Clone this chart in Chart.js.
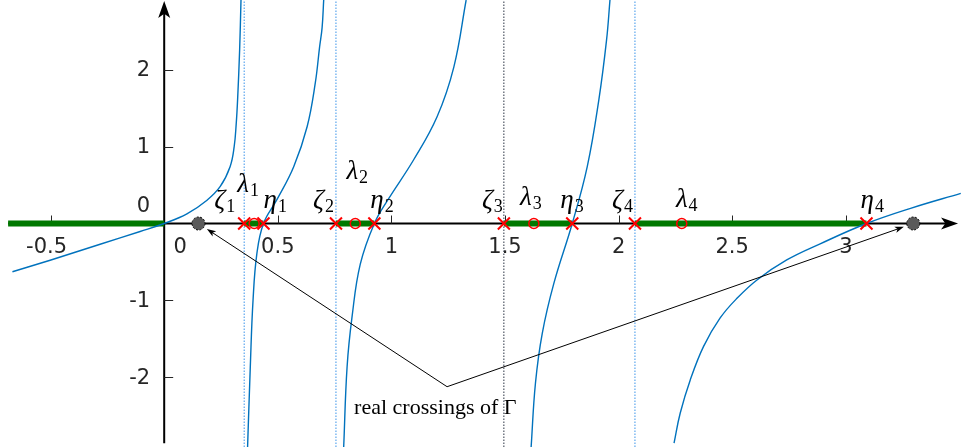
<!DOCTYPE html>
<html>
<head>
<meta charset="utf-8">
<script src="https://cdn.jsdelivr.net/npm/chart.js@4.4.0/dist/chart.umd.min.js"></script>
<style>
  html, body { margin: 0; padding: 0; background: #fff; }
  #wrap { width: 961px; height: 447px; }
</style>
</head>
<body>
<div id="wrap"><canvas id="chart" width="961" height="447"></canvas></div>
<script>
// visible window and drawn axes
const xRange = [-0.7227, 3.507];
const yRange = [-2.91, 2.91];
const axisX = [-0.687, 3.494];
const axisY = [-2.86, 2.897];

const xTicks = [-0.5, 0, 0.5, 1, 1.5, 2, 2.5, 3];
const yTicks = [-2, -1, 0, 1, 2];

// points on the real axis
const zetas = [0.352, 0.756, 1.495, 2.072];
const etas = [0.437, 0.925, 1.796, 3.091];
const lambdas = [0.396, 0.841, 1.627, 2.278];
const crossings = [0.151, 3.297];

// blue branches [x, y]
const branch1 = [[-0.668, -0.628], [-0.502, -0.478], [-0.282, -0.27], [-0.106, -0.104], [0, 0],
  [0.1, 0.125], [0.187, 0.3], [0.246, 0.479], [0.29, 0.74], [0.308, 1.0], [0.317, 1.3],
  [0.323, 1.61], [0.332, 2.26], [0.338, 2.91]];
const branch2 = [[0.367, -2.91], [0.379, -1.86], [0.391, -1.0], [0.408, -0.39], [0.437, 0],
  [0.496, 0.31], [0.57, 0.74], [0.629, 1.26], [0.665, 1.83], [0.684, 2.3], [0.695, 2.55], [0.702, 2.91]];
const branch3 = [[0.79, -2.91], [0.805, -1.865], [0.827, -1.21], [0.863, -0.53], [0.925, 0],
  [0.985, 0.31], [1.098, 0.83], [1.201, 1.39], [1.275, 2.04], [1.329, 2.91]];
const branch4 = [[1.615, -2.91], [1.634, -2.08], [1.664, -1.43], [1.715, -0.78], [1.796, 0],
  [1.862, 0.74], [1.913, 1.61], [1.947, 2.39], [1.962, 2.91]];
const branch5 = [[2.244, -2.86], [2.271, -2.47], [2.315, -2.04], [2.374, -1.6], [2.447, -1.23],
  [2.521, -0.974], [2.609, -0.735], [2.74, -0.475], [2.887, -0.265], [3.091, 0], [3.285, 0.198],
  [3.506, 0.393]];

const noteText = 'real crossings of \u0393';
const noteVertex = [1.245, -2.125];
const notePos = [1.18, -2.42];

const blue = '#0072BD';
const green = '#007800';
const red = '#ff0000';
const tickColor = '#262626';

const toPts = (arr) => arr.map((p) => ({ x: p[0], y: p[1] }));

const curveSets = [branch1, branch2, branch3, branch4, branch5].map((b) => ({
  data: toPts(b),
  showLine: true,
  borderColor: blue,
  borderWidth: 1.4,
  pointRadius: 0,
  tension: 0.4,
  order: 2,
}));

// green segments: negative half axis plus [zeta_i, eta_i]
const greenSegs = [[axisX[0], 0]].concat(zetas.map((z, i) => [z, etas[i]]));
const greenSets = greenSegs.map((s) => ({
  data: [{ x: s[0], y: 0 }, { x: s[1], y: 0 }],
  showLine: true,
  borderColor: green,
  borderWidth: 6,
  pointRadius: 0,
  order: 3,
}));

const dottedSets = zetas.map((z, i) => ({
  data: [{ x: z, y: yRange[0] }, { x: z, y: yRange[1] }],
  showLine: true,
  borderColor: i === 2 ? '#2b3444' : '#3a93ea',
  borderWidth: 1,
  borderDash: [1.5, 1.5],
  pointRadius: 0,
  order: 4,
}));

const markerSets = [
  {
    data: zetas.concat(etas).map((v) => ({ x: v, y: 0 })),
    pointStyle: 'crossRot',
    pointRadius: 8.5,
    pointBorderColor: red,
    pointBorderWidth: 2,
    showLine: false,
    order: 1,
  },
  {
    data: lambdas.map((v) => ({ x: v, y: 0 })),
    pointStyle: 'circle',
    pointRadius: 5,
    pointBackgroundColor: 'rgba(0,0,0,0)',
    pointBorderColor: red,
    pointBorderWidth: 1.5,
    showLine: false,
    order: 1,
  },
];

function arrowHead(ctx, tx, ty, angle, len, half) {
  ctx.save();
  ctx.translate(tx, ty);
  ctx.rotate(angle);
  ctx.beginPath();
  ctx.moveTo(0, 0);
  ctx.lineTo(-len, -half);
  ctx.lineTo(-len * 0.75, 0);
  ctx.lineTo(-len, half);
  ctx.closePath();
  ctx.fill();
  ctx.restore();
}

function greek(ctx, ch, sub, x, base, align) {
  ctx.font = 'italic 27px "Liberation Serif"';
  const w1 = ctx.measureText(ch).width;
  ctx.font = '18px "Liberation Serif"';
  const w2 = ctx.measureText(sub).width;
  let left = x;
  if (align === 'right') left = x - w1 - w2 - 1;
  if (align === 'center') left = x - (w1 + w2 + 1) / 2;
  ctx.textAlign = 'left';
  ctx.textBaseline = 'alphabetic';
  ctx.font = 'italic 27px "Liberation Serif"';
  ctx.fillText(ch, left, base);
  ctx.font = '18px "Liberation Serif"';
  ctx.fillText(sub, left + w1 + 1, base + 4);
}

const axesPlugin = {
  id: 'axes',
  beforeDatasetsDraw(chart) {
    const { ctx, scales: { x, y } } = chart;
    const px = (v) => x.getPixelForValue(v);
    const py = (v) => y.getPixelForValue(v);
    const x0 = px(0), y0 = py(0);
    ctx.save();
    ctx.strokeStyle = '#000';
    ctx.fillStyle = '#000';
    ctx.lineWidth = 2;
    ctx.beginPath();
    ctx.moveTo(px(axisX[0]), y0);
    ctx.lineTo(px(axisX[1]) - 8, y0);
    ctx.moveTo(x0, py(axisY[0]));
    ctx.lineTo(x0, py(axisY[1]) + 8);
    ctx.stroke();
    arrowHead(ctx, px(axisX[1]), y0, 0, 17, 6);
    arrowHead(ctx, x0, py(axisY[1]), -Math.PI / 2, 17, 6);

    // ticks
    ctx.strokeStyle = tickColor;
    ctx.lineWidth = 1;
    ctx.beginPath();
    xTicks.filter((t) => t !== 0).forEach((t) => {
      ctx.moveTo(Math.round(px(t)) + 0.5, y0);
      ctx.lineTo(Math.round(px(t)) + 0.5, y0 - 8);
    });
    yTicks.filter((t) => t !== 0).forEach((t) => {
      ctx.moveTo(x0, Math.round(py(t)) + 0.5);
      ctx.lineTo(x0 + 9, Math.round(py(t)) + 0.5);
    });
    ctx.stroke();

    // tick labels
    ctx.fillStyle = tickColor;
    ctx.font = '21px "DejaVu Sans"';
    ctx.textAlign = 'center';
    ctx.textBaseline = 'alphabetic';
    xTicks.forEach((t) => {
      const dx = t === 0 ? 16 : (t < 0 ? -4 : 0);
      ctx.fillText(String(t), px(t) + dx, y0 + 29);
    });
    ctx.textAlign = 'right';
    ctx.textBaseline = 'middle';
    yTicks.forEach((t) => {
      const yy = t === 0 ? y0 - 18 : py(t);
      ctx.fillText(String(t), x0 - 14, yy + 1);
    });
    ctx.restore();
  },
  afterDatasetsDraw(chart) {
    const { ctx, scales: { x, y } } = chart;
    const px = (v) => x.getPixelForValue(v);
    const py = (v) => y.getPixelForValue(v);
    const y0 = py(0);
    ctx.save();
    ctx.fillStyle = '#000';

    // greek labels
    const zdx = [-9, -2, -1, -2];
    const edx = [0, -4, -12, -6];
    const ldx = [-6, 2, -3, 5];
    const lbase = [192, 179, 205, 207];
    zetas.forEach((z, i) => greek(ctx, '\u03B6', String(i + 1), px(z) + zdx[i], y0 - 16, 'right'));
    etas.forEach((e, i) => greek(ctx, '\u03B7', String(i + 1), px(e) + edx[i], y0 - 16, 'left'));
    lambdas.forEach((l, i) => greek(ctx, '\u03BB', String(i + 1), px(l) + ldx[i], lbase[i] - 224 + y0, 'center'));

    // annotation lines with arrows
    const vx = px(noteVertex[0]), vy = py(noteVertex[1]);
    ctx.strokeStyle = '#000';
    ctx.lineWidth = 1;
    crossings.forEach((c) => {
      const cx = px(c), cy = y0;
      const ang = Math.atan2(cy - vy, cx - vx);
      const tx = cx - Math.cos(ang) * 10, ty = cy - Math.sin(ang) * 10;
      ctx.beginPath();
      ctx.moveTo(vx, vy);
      ctx.lineTo(tx - Math.cos(ang) * 4, ty - Math.sin(ang) * 4);
      ctx.stroke();
      arrowHead(ctx, tx, ty, ang, 9, 3.2);
    });

    // gray crossing dots
    crossings.forEach((c) => {
      ctx.beginPath();
      ctx.arc(px(c), y0, 6.5, 0, Math.PI * 2);
      ctx.fillStyle = '#5a5a5a';
      ctx.fill();
      ctx.setLineDash([2, 1.5]);
      ctx.strokeStyle = '#000';
      ctx.lineWidth = 1;
      ctx.stroke();
      ctx.setLineDash([]);
    });

    ctx.fillStyle = '#000';
    ctx.font = '22px "Liberation Serif"';
    ctx.textAlign = 'center';
    ctx.textBaseline = 'alphabetic';
    ctx.fillText(noteText, px(notePos[0]) + 3, py(notePos[1]) + 5);
    ctx.restore();
  },
};

document.addEventListener('DOMContentLoaded', function () {
  new Chart(document.getElementById('chart'), {
    type: 'scatter',
    data: { datasets: markerSets.concat(curveSets, greenSets, dottedSets) },
    options: {
      responsive: false,
      animation: false,
      layout: { padding: 0, autoPadding: false },
      plugins: { legend: { display: false }, tooltip: { enabled: false } },
      scales: {
        x: { type: 'linear', min: xRange[0], max: xRange[1], display: false },
        y: { type: 'linear', min: yRange[0], max: yRange[1], display: false },
      },
    },
    plugins: [axesPlugin],
  });
});
</script>
</body>
</html>
